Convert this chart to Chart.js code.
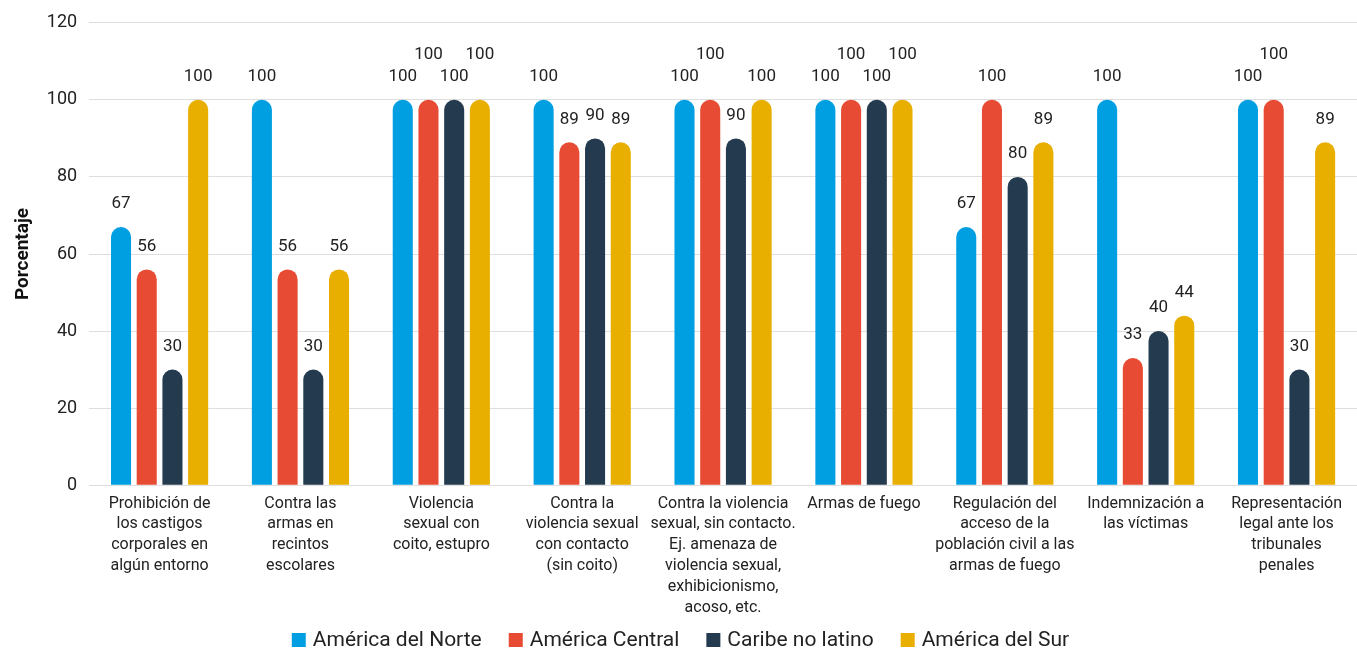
<!DOCTYPE html>
<html>
<head>
<meta charset="utf-8">
<script src="https://cdn.jsdelivr.net/npm/chart.js@4/dist/chart.umd.min.js"></script>
<style>
  html, body { margin: 0; padding: 0; background: #fff; }
  #wrap { width: 1357px; height: 650px; }
</style>
</head>
<body>
<div id="wrap"><canvas id="c"></canvas></div>
<script>
const categories = [
  ["Prohibición de", "los castigos", "corporales en", "algún entorno"],
  ["Contra las", "armas en", "recintos", "escolares"],
  ["Violencia", "sexual con", "coito, estupro"],
  ["Contra la", "violencia sexual", "con contacto", "(sin coito)"],
  ["Contra la violencia", "sexual, sin contacto.", "Ej. amenaza de", "violencia sexual,", "exhibicionismo,", "acoso, etc."],
  ["Armas de fuego"],
  ["Regulación del", "acceso de la", "población civil a las", "armas de fuego"],
  ["Indemnización a", "las víctimas"],
  ["Representación", "legal ante los", "tribunales", "penales"]
];

const seriesNames = ["América del Norte", "América Central", "Caribe no latino", "América del Sur"];
const norte   = [67, 100, 100, 100, 100, 100, 67, 100, 100];
const central = [56, 56, 100, 89, 100, 100, 100, 33, 100];
const caribe  = [30, 30, 100, 90, 90, 100, 80, 40, 30];
const sur     = [100, 56, 100, 89, 100, 100, 89, 44, 89];
const yTicks  = [0, 20, 40, 60, 80, 100, 120];

const colors = ["#009FE1", "#E84B33", "#243A4F", "#E8AE00"];
const values = [norte, central, caribe, sur];

const FONT = "Roboto, 'Noto Sans', sans-serif";

// Draws the value above each bar, lifting a label when it would collide
// with the label of the neighbouring bar in the same group.
const valueLabels = {
  id: "valueLabels",
  afterDatasetsDraw(chart) {
    const ctx = chart.ctx;
    ctx.save();
    ctx.font = "17px " + FONT;
    ctx.fillStyle = "#222";
    ctx.textAlign = "center";
    ctx.textBaseline = "middle";
    const n = chart.data.labels.length;
    for (let i = 0; i < n; i++) {
      let prev = null;
      chart.data.datasets.forEach((ds, d) => {
        const bar = chart.getDatasetMeta(d).data[i];
        const txt = String(ds.data[i]);
        const w = ctx.measureText(txt).width;
        let y = bar.y - 23;
        if (prev) {
          const overlapX = Math.abs(bar.x - prev.x) < (w + prev.w) / 2 + 1;
          const overlapY = Math.abs(y - prev.y) < 18;
          if (overlapX && overlapY) y -= 22;
        }
        ctx.fillText(txt, bar.x, y);
        prev = { x: bar.x, y: y, w: w };
      });
    }
    ctx.restore();
  }
};

// Horizontal legend row centred under the chart.
const bottomLegend = {
  id: "bottomLegend",
  afterDraw(chart) {
    const ctx = chart.ctx;
    ctx.save();
    ctx.font = "21px " + FONT;
    ctx.textBaseline = "middle";
    ctx.textAlign = "left";
    const box = 14, gapText = 7, gapItem = 27;
    const widths = seriesNames.map(s => ctx.measureText(s).width);
    const total = widths.reduce((a, w) => a + box + gapText + w, 0) + gapItem * (seriesNames.length - 1);
    let x = chart.width / 2 + 2 - total / 2;
    const y = 640;
    seriesNames.forEach((s, k) => {
      ctx.fillStyle = colors[k];
      ctx.fillRect(x, y - box / 2, box, box);
      ctx.fillStyle = "#222";
      ctx.fillText(s, x + box + gapText, y + 1);
      x += box + gapText + widths[k] + gapItem;
    });
    ctx.restore();
  }
};

new Chart(document.getElementById("c"), {
  type: "bar",
  data: {
    labels: categories,
    datasets: values.map((v, k) => ({
      label: seriesNames[k],
      data: v,
      backgroundColor: colors[k],
      borderRadius: { topLeft: 10, topRight: 10, bottomLeft: 0, bottomRight: 0 },
      borderSkipped: false,
      categoryPercentage: 0.73,
      barPercentage: 0.78
    }))
  },
  options: {
    responsive: true,
    maintainAspectRatio: false,
    animation: false,
    layout: { padding: { left: 12, right: 0, top: 16, bottom: 32 } },
    plugins: {
      legend: { display: false },
      tooltip: { enabled: false }
    },
    scales: {
      x: {
        grid: { display: false },
        border: { display: false },
        ticks: {
          autoSkip: false,
          maxRotation: 0,
          minRotation: 0,
          color: "#222",
          padding: 0,
          font: { family: FONT, size: 16, lineHeight: 1.3 }
        }
      },
      y: {
        min: 0,
        max: 120,
        afterBuildTicks(scale) { scale.ticks = yTicks.map(v => ({ value: v })); },
        grid: { color: "#dedede", lineWidth: 1, drawTicks: false },
        border: { display: false },
        ticks: {
          color: "#222",
          padding: 12,
          font: { family: FONT, size: 18 }
        },
        title: {
          display: true,
          text: "Porcentaje",
          color: "#111",
          padding: { top: 0, bottom: 0 },
          font: { family: FONT, size: 19, weight: "bold" }
        }
      }
    }
  },
  plugins: [valueLabels, bottomLegend]
});
</script>
</body>
</html>
